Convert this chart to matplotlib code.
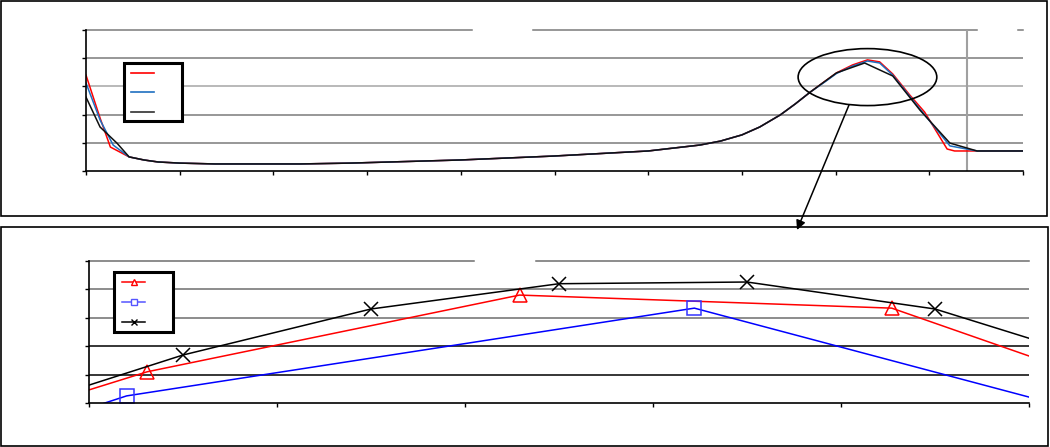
import matplotlib
matplotlib.use("Agg")
import matplotlib.pyplot as plt
from matplotlib.patches import Rectangle, Ellipse
from matplotlib.lines import Line2D
from matplotlib.transforms import Affine2D

# ---------------- data ----------------
# top panel (full range), x in axis units 0..10, y in 0..5
top_red_x = [0.0, 0.15, 0.26, 0.46, 0.62, 0.77, 1.00, 1.38, 2.28, 2.82, 3.99, 4.99, 6.00, 6.55,
             6.77, 7.00, 7.19, 7.41, 7.57, 7.73, 7.89, 8.01, 8.18, 8.34, 8.47, 8.61, 8.79, 8.95,
             9.19, 9.27, 9.51, 10.0]
top_red_y = [3.40, 1.88, 0.85, 0.50, 0.39, 0.32, 0.28, 0.25, 0.25, 0.28, 0.39, 0.53, 0.71, 0.92,
             1.06, 1.28, 1.56, 1.99, 2.38, 2.80, 3.19, 3.48, 3.76, 3.94, 3.87, 3.44, 2.70, 2.09,
             0.78, 0.71, 0.71, 0.71]
top_blue_x = [0.0, 0.15, 0.29, 0.46, 0.62, 0.77, 1.00, 1.38, 2.28, 2.82, 3.99, 4.99, 6.00, 6.55,
              6.77, 7.00, 7.19, 7.41, 7.57, 7.73, 7.89, 8.01, 8.18, 8.34, 8.47, 8.61, 8.90, 9.22,
              9.51, 10.0]
top_blue_y = [3.12, 1.81, 0.92, 0.50, 0.39, 0.32, 0.28, 0.25, 0.25, 0.28, 0.39, 0.53, 0.71, 0.92,
              1.06, 1.28, 1.56, 1.99, 2.38, 2.80, 3.17, 3.46, 3.72, 3.90, 3.83, 3.40, 2.20, 0.89,
              0.71, 0.71]
top_black_x = [0.0, 0.15, 0.33, 0.46, 0.62, 0.77, 1.00, 1.38, 2.28, 2.82, 3.99, 4.99, 6.00, 6.55,
               6.77, 7.00, 7.19, 7.41, 7.57, 7.73, 7.89, 8.01, 8.31, 8.61, 8.90, 9.22, 9.51, 10.0]
top_black_y = [2.62, 1.56, 0.99, 0.50, 0.39, 0.32, 0.28, 0.25, 0.25, 0.28, 0.39, 0.53, 0.71, 0.92,
               1.06, 1.28, 1.56, 1.99, 2.38, 2.80, 3.19, 3.48, 3.83, 3.37, 2.16, 0.99, 0.71, 0.71]

# bottom panel (zoom of the peak), x in 0..5, y in 0..5 (points outside are clipped)
bot_red_x = [-1.67, 0.31, 2.29, 4.27, 6.25]
bot_red_y = [-2.98, 1.10, 3.80, 3.34, -1.23]
bot_blue_x = [-2.83, 0.20, 3.22, 6.25]
bot_blue_y = [-6.30, 0.25, 3.34, -1.99]
bot_black_x = [-0.5, 0.5, 1.5, 2.5, 3.5, 4.5, 5.5]
bot_black_y = [-0.43, 1.69, 3.31, 4.20, 4.26, 3.31, 1.25]

top_xticks = list(range(0, 11))
bot_xticks = list(range(0, 6))
yticks = list(range(0, 6))

# ---------------- figure ----------------
W, H = 1050, 447
fig = plt.figure(figsize=(W / 100, H / 100), dpi=100)
fig.patch.set_facecolor("white")
px = Affine2D().scale(1 / W, -1 / H).translate(0, 1) + fig.transFigure


def axes_px(l, t, r, b):
    return fig.add_axes([l / W, 1 - b / H, (r - l) / W, (b - t) / H])


# frames
fig.add_artist(Rectangle((0.5, 0.5), 1046.5, 215, transform=px, fill=False, lw=1.2, ec="black"))
fig.add_artist(Rectangle((0.5, 227), 1047.5, 219, transform=px, fill=False, lw=1.2, ec="black"))


def style_axes(ax, xmax, xticks, grid_colors, gaps):
    ax.set_xlim(0, xmax)
    ax.set_ylim(0, 5)
    for s in ["top", "right"]:
        ax.spines[s].set_visible(False)
    for s in ["left", "bottom"]:
        ax.spines[s].set_color("black")
        ax.spines[s].set_linewidth(1.2)
        ax.spines[s].set_zorder(5)
    ax.set_xticks(xticks)
    ax.set_yticks(yticks)
    ax.set_xticklabels([""] * len(xticks))
    ax.set_yticklabels([""] * len(yticks))
    ax.tick_params(direction="out", length=3, width=1, color="black")
    ax.patch.set_alpha(0)
    for y, c in zip(yticks[1:-1], grid_colors[:-1]):
        ax.axhline(y, color=c, lw=1.1, zorder=1)
    for (a, b) in gaps:
        ax.axhline(5, xmin=a, xmax=b, color=grid_colors[-1], lw=1.1, zorder=1, clip_on=False)


# ---------------- top panel ----------------
ax1 = axes_px(86, 30, 1023, 171)
style_axes(ax1, 10, top_xticks,
           ["#7a7a7a", "#7a7a7a", "#a6a6a6", "#7a7a7a", "#7a7a7a"],
           [(0, 0.412), (0.477, 0.951), (0.995, 1.0)])
ax1.axvline(9.40, color="#a0a0a0", lw=1.5, zorder=1)
ax1.plot(top_red_x, top_red_y, color="#ff0000", lw=1.1, zorder=3)
ax1.plot(top_blue_x, top_blue_y, color="#1f6fc0", lw=1.1, zorder=3)
ax1.plot(top_black_x, top_black_y, color="#101010", lw=1.1, zorder=4)
ax1.add_patch(Ellipse((8.34, 3.33), 1.48, 2.02, fill=False, ec="black", lw=1.2, zorder=6, clip_on=False))

# top legend
fig.add_artist(Rectangle((124, 63), 58, 58, transform=px, fc="white", ec="black", lw=2.2, zorder=10))
for yy, c in zip([73, 92, 112], ["#ff0000", "#1f6fc0", "#303030"]):
    fig.add_artist(Line2D([131, 154], [yy, yy], transform=px, color=c, lw=1.2, zorder=11))

# ---------------- bottom panel ----------------
ax2 = axes_px(89, 261, 1029, 403)
style_axes(ax2, 5, bot_xticks,
           ["#000000", "#000000", "#6e6e6e", "#6e6e6e", "#6e6e6e"],
           [(0, 0.41), (0.476, 1.0)])
ax2.plot(bot_red_x, bot_red_y, color="#ff0000", lw=1.1, zorder=3,
         marker="^", ms=10, mfc="none", mec="#ff0000", mew=1.1)
ax2.plot(bot_blue_x, bot_blue_y, color="#0000ff", lw=1.1, zorder=3,
         marker="s", ms=10, mfc="none", mec="#3333ff", mew=1.1)
ax2.plot(bot_black_x, bot_black_y, color="#000000", lw=1.1, zorder=4,
         marker="x", ms=10, mew=1.1)

# bottom legend
fig.add_artist(Rectangle((114, 272), 59, 60, transform=px, fc="white", ec="black", lw=2.2, zorder=10))
for yy, c, m in zip([282, 302, 322], ["#ff0000", "#5555ff", "#000000"], ["^", "s", "x"]):
    fig.add_artist(Line2D([122, 145], [yy, yy], transform=px, color=c, lw=1.1, zorder=11))
    fig.add_artist(Line2D([133.5], [yy], transform=px, color=c, lw=0, zorder=12,
                          marker=m, ms=4, mfc="white" if m != "x" else "none", mec=c))

# arrow from ellipse to the zoomed panel
ax1.annotate("", xy=(797, H - 230), xycoords="figure pixels",
             xytext=(849, H - 105), textcoords="figure pixels",
             arrowprops=dict(arrowstyle="-|>", color="black", lw=1.1, mutation_scale=14,
                             shrinkA=0, shrinkB=0), zorder=20, annotation_clip=False)

fig.savefig("out.png", dpi=100, facecolor="white")
